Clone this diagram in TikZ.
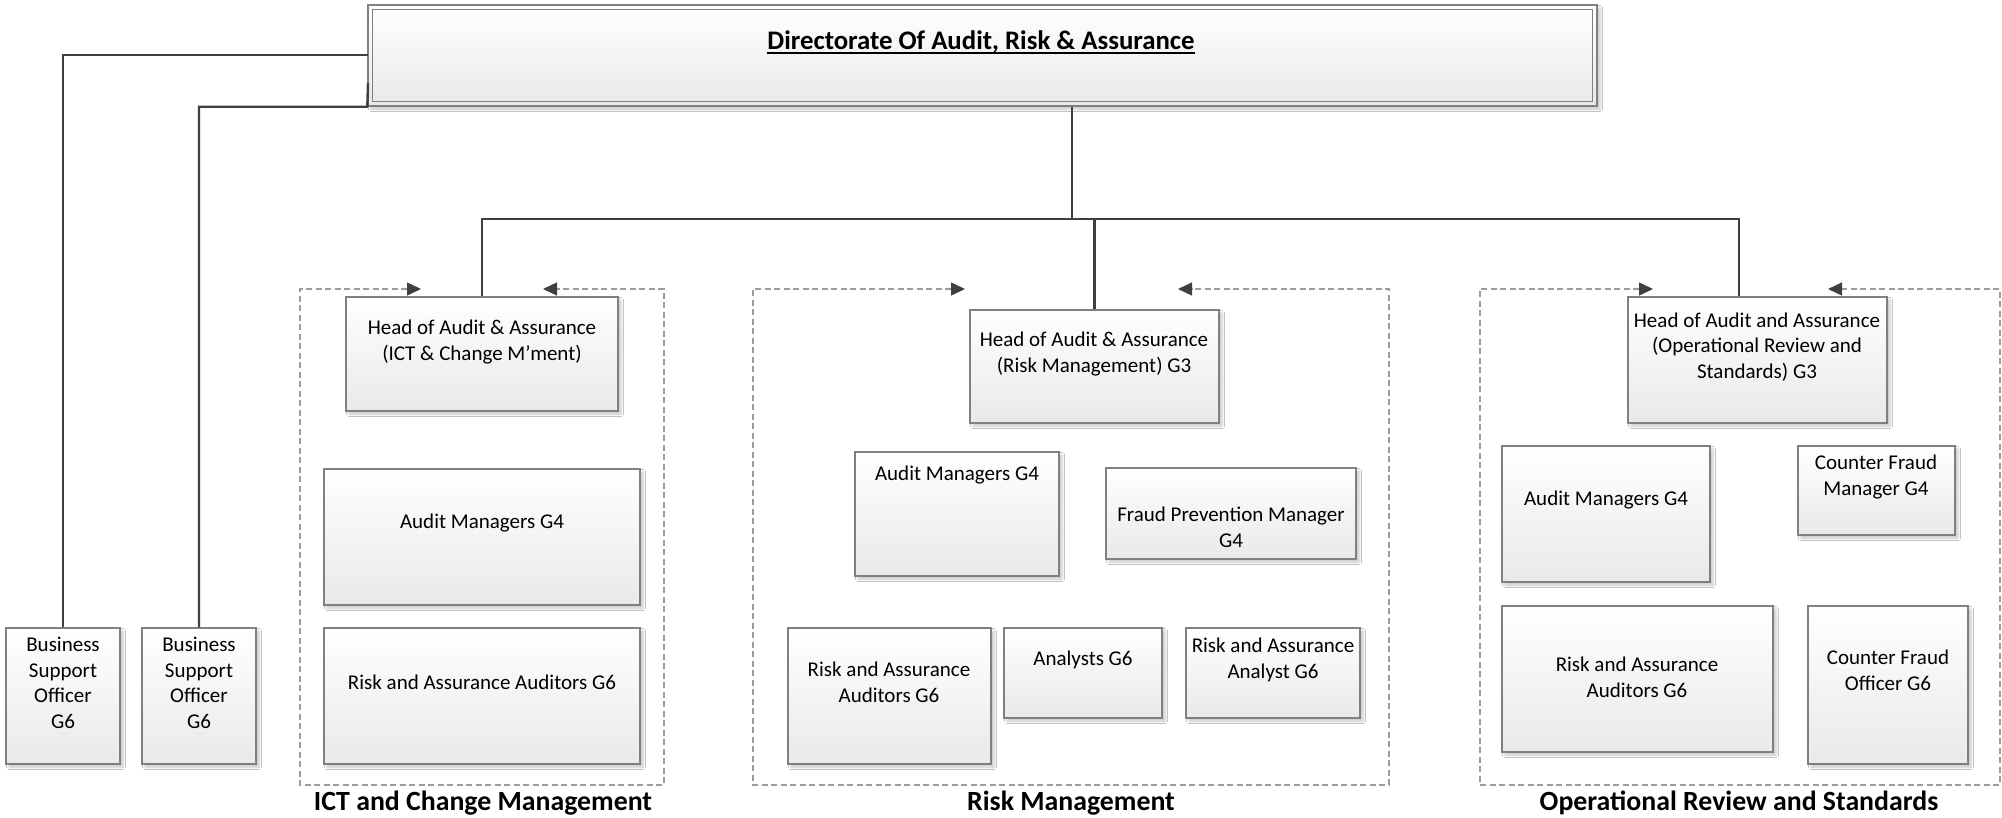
\documentclass[tikz,border=0pt]{standalone}
\usepackage{fontspec}
\setmainfont{Carlito}
\usetikzlibrary{arrows.meta,shadows.blur,fit}

\definecolor{edgegray}{HTML}{808080}
\definecolor{linkgray}{HTML}{3F3F3F}
\definecolor{dashgray}{HTML}{9C9C9C}
\definecolor{fillbottom}{HTML}{E9E9E9}

\tikzset{
  unitbox/.style={draw=edgegray, line width=1.4pt, top color=white, bottom color=fillbottom,
    inner sep=0pt, blur shadow={shadow xshift=3pt, shadow yshift=-3pt, shadow blur radius=2.5pt, shadow opacity=22}},
  lbl/.style={font=\fontsize{21}{25.6}\selectfont, align=center, inner sep=0pt, text=black},
  grouplbl/.style={font=\fontsize{27.8}{31}\selectfont\bfseries, inner sep=0pt, anchor=base},
  link/.style={draw=linkgray, line width=2.4pt},
  frame/.style={draw=dashgray, line width=1.3pt, dash pattern=on 6pt off 3.5pt,
    {Triangle[length=14pt,width=13pt,color=linkgray,fill=linkgray]}-{Triangle[length=14pt,width=13pt,color=linkgray,fill=linkgray]}}
}
\newcommand\orgunit[5]{\node[unitbox, fit={(#2,#3) (#4,#5)}] (#1) {};}

\begin{document}
\begin{tikzpicture}[x=1pt,y=-1pt]
\useasboundingbox (0,0) rectangle (2002,817);
\fill[white] (0,0) rectangle (2002,817);

% ---------- dashed department frames (split top edge ends in arrowheads) ----------
\coordinate (g1a) at (421,289); \coordinate (g1b) at (543,289);
\coordinate (g2a) at (965,289); \coordinate (g2b) at (1178,289);
\coordinate (g3a) at (1653,289); \coordinate (g3b) at (1828,289);
\draw[frame] (g1a) -- (300,289) -- (300,785) -- (664,785) -- (664,289) -- (g1b);
\draw[frame] (g2a) -- (753,289) -- (753,785) -- (1389,785) -- (1389,289) -- (g2b);
\draw[frame] (g3a) -- (1480,289) -- (1480,785) -- (2000,785) -- (2000,289) -- (g3b);

% ---------- directorate ----------
\node[unitbox, fit={(368,5) (1597,106)}] (dir) {};
\draw[edgegray, line width=1.2pt] ([shift={(5pt,-5pt)}]dir.north west) rectangle ([shift={(-5pt,5pt)}]dir.south east);
\node[font=\fontsize{26.8}{32}\selectfont\bfseries, inner sep=0pt, anchor=base] (dirTxt) at (981,49) {Directorate Of Audit, Risk \& Assurance};
\draw[black, line width=2pt] ([yshift=-4pt]dirTxt.base west) -- ([yshift=-4pt]dirTxt.base east);

% ---------- business support officers ----------
\orgunit{bso1}{6}{628}{120}{764}
\orgunit{bso2}{142}{628}{256}{764}
\node[lbl] (bso1Txt) at (63,683) {Business\\Support\\Officer\\G6};
\node[lbl] (bso2Txt) at (199,683) {Business\\Support\\Officer\\G6};

% ---------- ICT and Change Management ----------
\orgunit{ictHead}{346}{297}{618}{411}
\orgunit{ictAM}{324}{469}{640}{605}
\orgunit{ictRAA}{324}{628}{640}{764}
\node[lbl] (ictHeadTxt) at (482,342) {Head of Audit \& Assurance\\(ICT \& Change M’ment)};
\node[lbl] (ictAMTxt) at (482,523) {Audit Managers G4};
\node[lbl] (ictRAATxt) at (482,682) {Risk and Assurance Auditors G6};
\node[grouplbl] (ictLbl) at (483,810) {ICT and Change Management};

% ---------- Risk Management ----------
\orgunit{riskHead}{970}{310}{1219}{423}
\orgunit{riskAM}{855}{452}{1059}{576}
\orgunit{riskFPM}{1106}{468}{1356}{559}
\orgunit{riskRAA}{788}{628}{991}{764}
\orgunit{riskAn}{1004}{628}{1162}{718}
\orgunit{riskRAAn}{1186}{628}{1360}{718}
\node[lbl] (riskHeadTxt) at (1094,354) {Head of Audit \& Assurance\\(Risk Management) G3};
\node[lbl] (riskAMTxt) at (957,475) {Audit Managers G4};
\node[lbl] (riskFPMTxt) at (1231,527) {Fraud Prevention Manager\\G4};
\node[lbl] (riskRAATxt) at (889,682) {Risk and Assurance\\Auditors G6};
\node[lbl] (riskAnTxt) at (1083,660) {Analysts G6};
\node[lbl] (riskRAAnTxt) at (1273,660) {Risk and Assurance\\Analyst G6};
\node[grouplbl] (riskLbl) at (1071,810) {Risk Management};

% ---------- Operational Review and Standards ----------
\orgunit{opsHead}{1628}{297}{1887}{423}
\orgunit{opsAM}{1502}{446}{1710}{582}
\orgunit{opsCFM}{1798}{446}{1955}{535}
\orgunit{opsRAA}{1502}{606}{1773}{752}
\orgunit{opsCFO}{1808}{606}{1968}{764}
\node[lbl] (opsHeadTxt) at (1757,347) {Head of Audit and Assurance\\(Operational Review and\\Standards) G3};
\node[lbl] (opsAMTxt) at (1606,500) {Audit Managers G4};
\node[lbl] (opsCFMTxt) at (1876,477) {Counter Fraud\\Manager G4};
\node[lbl] (opsRAATxt) at (1637,677) {Risk and Assurance\\Auditors G6};
\node[lbl] (opsCFOTxt) at (1888,670) {Counter Fraud\\Officer G6};
\node[grouplbl] (opsLbl) at (1739,810) {Operational Review and Standards};

% ---------- reporting lines ----------
\coordinate (hub) at (1072,219);
\coordinate (opsDrop) at (1739,219);
\coordinate (tap1) at (368,55);
\coordinate (tap2) at (368,83);
\draw[link] (dir.south -| hub) -- (hub);
\draw[link] (ictHead.north) |- (opsDrop) -- (opsDrop |- opsHead.north);
\draw[link] (riskHead.north) -- (riskHead.north |- hub);
\draw[link] (tap1) -| (bso1.north);
\draw[link] (tap2) -- (dir.south west) -| (bso2.north);
\end{tikzpicture}
\end{document}
